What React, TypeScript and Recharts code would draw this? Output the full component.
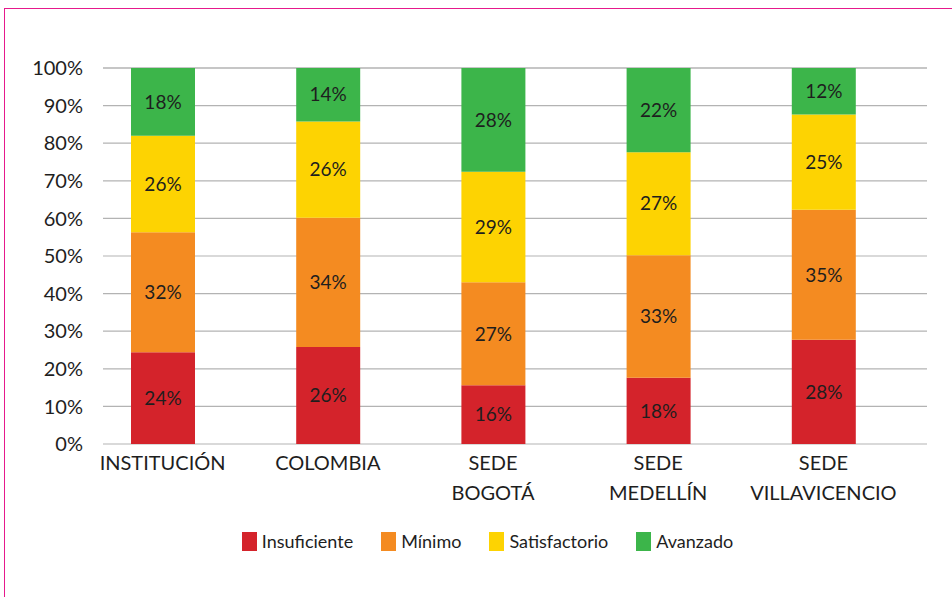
import { BarChart, Bar, XAxis, YAxis, CartesianGrid, Legend, LabelList } from 'recharts'

// valores por sede (porcentaje de estudiantes en cada nivel)
const categories = ['INSTITUCIÓN', 'COLOMBIA', 'SEDE\nBOGOTÁ', 'SEDE\nMEDELLÍN', 'SEDE\nVILLAVICENCIO']
const insuficiente = [24.4, 25.8, 15.6, 17.6, 27.7]
const minimo = [31.9, 34.4, 27.4, 32.6, 34.6]
const satisfactorio = [25.7, 25.6, 29.4, 27.4, 25.3]
const avanzado = [18.0, 14.2, 27.6, 22.4, 12.4]
const yTicks = [0, 10, 20, 30, 40, 50, 60, 70, 80, 90, 100]
const legendOrder = ['Insuficiente', 'Mínimo', 'Satisfactorio', 'Avanzado']

const FONT = 'Lato, "DejaVu Sans", sans-serif'
const TEXT = '#1e1e1e'

const data = categories.map((name, i) => ({
  name,
  insuficiente: insuficiente[i],
  minimo: minimo[i],
  satisfactorio: satisfactorio[i],
  avanzado: avanzado[i],
}))

function CategoryTick({ x, y, payload }: any) {
  const lines = String(payload.value).split('\n')
  return (
    <text x={x} y={y} textAnchor="middle" fill={TEXT} fontSize={20} fontFamily={FONT}>
      {lines.map((line, i) => (
        <tspan key={i} x={x} dy={i === 0 ? 26 : 30}>
          {line}
        </tspan>
      ))}
    </text>
  )
}

function LegendContent({ payload }: any) {
  // el orden de la leyenda sigue el de las series
  const items = [...(payload || [])].sort(
    (a: any, b: any) => legendOrder.indexOf(a.value) - legendOrder.indexOf(b.value)
  )
  return (
    <div
      style={{
        display: 'flex',
        justifyContent: 'center',
        alignItems: 'center',
        fontFamily: FONT,
        fontSize: 18,
        color: TEXT,
      }}
    >
      {items.map((item: any) => (
        <div key={item.value} style={{ display: 'flex', alignItems: 'center', margin: '0 14px' }}>
          <span style={{ width: 15, height: 19, background: item.color, marginRight: 5 }} />
          <span>{item.value}</span>
        </div>
      ))}
    </div>
  )
}

const pct = (v: any) => `${Math.round(Number(v))}%`

export default function App() {
  return (
    <div style={{ position: 'absolute', left: 0, top: 0, width: 952, height: 597, background: '#fff' }}>
      <div
        style={{
          position: 'absolute',
          left: 4,
          top: 8,
          right: 0,
          bottom: 0,
          borderLeft: '1.5px solid #e6198c',
          borderTop: '1.5px solid #e6198c',
        }}
      />
      <BarChart
        width={952}
        height={597}
        data={data}
        margin={{ top: 68, right: 25, left: 0, bottom: 93 }}
        barSize={64}
      >
        <CartesianGrid vertical={false} stroke="#b3b3b3" strokeWidth={1.2} />
        <XAxis
          dataKey="name"
          axisLine={false}
          tickLine={false}
          tickSize={0}
          tickMargin={0}
          height={60}
          interval={0}
          padding={{ left: -23, right: 21 }}
          tick={<CategoryTick />}
        />
        <YAxis
          width={103}
          domain={[0, 100]}
          ticks={yTicks}
          tickFormatter={(v) => `${v}%`}
          axisLine={false}
          tickLine={false}
          tickSize={0}
          tickMargin={20}
          tick={{ fill: TEXT, fontSize: 20, fontFamily: FONT }}
        />
        <Legend
          layout="horizontal"
          verticalAlign="middle"
          align="center"
          wrapperStyle={{ top: 530, left: 0, width: 975 }}
          content={<LegendContent />}
        />
        <Bar dataKey="insuficiente" name="Insuficiente" stackId="a" fill="#d4232b" isAnimationActive={false}>
          <LabelList dataKey="insuficiente" position="center" formatter={pct} fill={TEXT} fontSize={19} fontFamily={FONT} />
        </Bar>
        <Bar dataKey="minimo" name="Mínimo" stackId="a" fill="#f48b21" isAnimationActive={false}>
          <LabelList dataKey="minimo" position="center" formatter={pct} fill={TEXT} fontSize={19} fontFamily={FONT} />
        </Bar>
        <Bar dataKey="satisfactorio" name="Satisfactorio" stackId="a" fill="#fdd302" isAnimationActive={false}>
          <LabelList dataKey="satisfactorio" position="center" formatter={pct} fill={TEXT} fontSize={19} fontFamily={FONT} />
        </Bar>
        <Bar dataKey="avanzado" name="Avanzado" stackId="a" fill="#3cb54a" isAnimationActive={false}>
          <LabelList dataKey="avanzado" position="center" formatter={pct} fill={TEXT} fontSize={19} fontFamily={FONT} />
        </Bar>
      </BarChart>
    </div>
  )
}
